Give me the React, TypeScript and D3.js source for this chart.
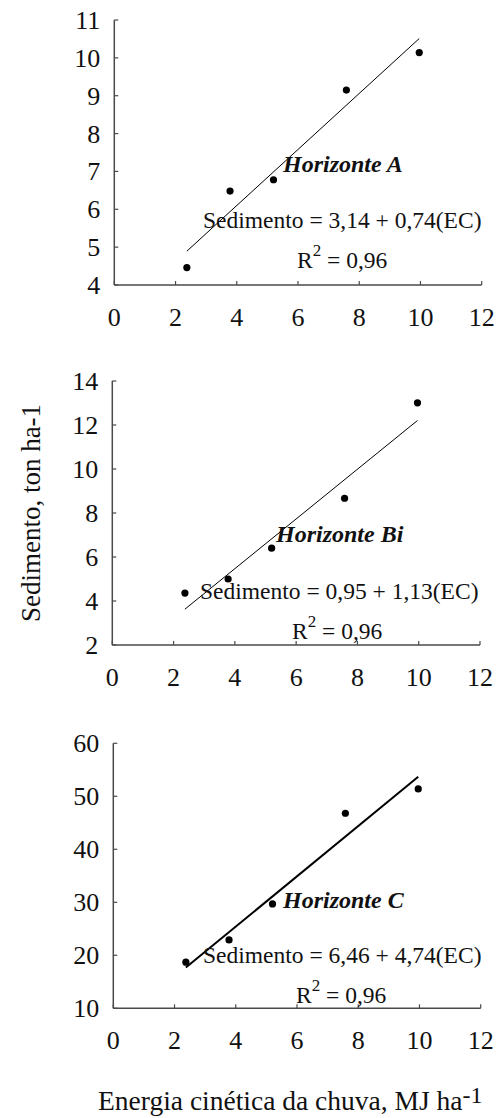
import React from "react";
import * as d3 from "d3";

const energia = [2.37, 3.78, 5.2, 7.58, 9.96];
const sedA = [4.46, 6.48, 6.78, 9.15, 10.14];
const sedB = [4.36, 5.0, 6.4, 8.67, 13.01];
const sedC = [18.7, 22.9, 29.7, 46.8, 51.4];
const intercepts = [3.14, 0.95, 6.46];
const slopes = [0.74, 1.13, 4.74];
const xTicks = [0, 2, 4, 6, 8, 10, 12];
const yTicksA = [4, 5, 6, 7, 8, 9, 10, 11];
const yTicksB = [2, 4, 6, 8, 10, 12, 14];
const yTicksC = [10, 20, 30, 40, 50, 60];
const horizontes = ["Horizonte A", "Horizonte Bi", "Horizonte C"];
const equations = [
  "Sedimento = 3,14 + 0,74(EC)",
  "Sedimento = 0,95 + 1,13(EC)",
  "Sedimento = 6,46 + 4,74(EC)",
];
const r2Values = ["0,96", "0,96", "0,96"];
const yTitle = "Sedimento, ton ha-1";
const xTitle = "Energia cinética da chuva, MJ ha";
const xTitleSup = "-1";

const FONT = "'Liberation Serif', 'Times New Roman', serif";
const AXIS = "#4a4a4a";

const panels = [
  { vals: sedA, yTicks: yTicksA, left: 114.3, right: 481.7, top: 20, bottom: 285, lw: 1,
    hx: 283, hy: 172, ex: 203, ey: 228, rx: 297, ry: 268 },
  { vals: sedB, yTicks: yTicksB, left: 112.3, right: 480, top: 381, bottom: 645, lw: 1,
    hx: 276, hy: 542, ex: 200, ey: 599, rx: 292, ry: 639 },
  { vals: sedC, yTicks: yTicksC, left: 113.3, right: 480.7, top: 743.3, bottom: 1008.3, lw: 2,
    hx: 283, hy: 908, ex: 203, ey: 963, rx: 296, ry: 1003 },
];

function Panel({ p, i }: { p: any; i: number }) {
  const x = d3.scaleLinear().domain([0, 12]).range([p.left, p.right]);
  const yDom = [p.yTicks[0], p.yTicks[p.yTicks.length - 1]];
  const y = d3.scaleLinear().domain(yDom).range([p.bottom, p.top]);
  const x0 = d3.min(energia) as number;
  const x1 = d3.max(energia) as number;
  const line = d3.line<number>().x((d) => x(d)).y((d) => y(intercepts[i] + slopes[i] * d));
  return (
    <g>
      <line x1={x(0)} x2={x(0)} y1={y(yDom[1])} y2={y(yDom[0])} stroke={AXIS} strokeWidth={1.5} />
      <line x1={x(0)} x2={x(12)} y1={y(yDom[0])} y2={y(yDom[0])} stroke={AXIS} strokeWidth={1.5} />
      {p.yTicks.map((t: number) => (
        <g key={"y" + t}>
          <line x1={x(0)} x2={x(0) + 4} y1={y(t)} y2={y(t)} stroke={AXIS} strokeWidth={1.2} />
          <text x={x(0) - 14} y={y(t) + 9} textAnchor="end" fontSize={26} fontFamily={FONT} fill="#111">
            {t}
          </text>
        </g>
      ))}
      {xTicks.map((t) => (
        <g key={"x" + t}>
          <line x1={x(t)} x2={x(t)} y1={y(yDom[0])} y2={y(yDom[0]) - 4} stroke={AXIS} strokeWidth={1.2} />
          <text x={x(t)} y={y(yDom[0]) + 41} textAnchor="middle" fontSize={26} fontFamily={FONT} fill="#111">
            {t}
          </text>
        </g>
      ))}
      <path d={line([x0, x1]) || ""} stroke="#000" strokeWidth={p.lw} fill="none" />
      {energia.map((e, k) => (
        <circle key={k} cx={x(e)} cy={y(p.vals[k])} r={3.6} fill="#000" />
      ))}
      <text x={p.hx} y={p.hy} fontSize={24} fontWeight="bold" fontStyle="italic" fontFamily={FONT} fill="#111">
        {horizontes[i]}
      </text>
      <text x={p.ex} y={p.ey} fontSize={23.5} fontFamily={FONT} fill="#111">
        {equations[i]}
      </text>
      <text x={p.rx} y={p.ry} fontSize={23.5} fontFamily={FONT} fill="#111">
        R
        <tspan fontSize={17} dy={-12}>2</tspan>
        <tspan dy={12}>{" = " + r2Values[i]}</tspan>
      </text>
    </g>
  );
}

export default function App() {
  return (
    <svg
      width={499}
      height={1118}
      style={{ position: "absolute", left: 0, top: 0, display: "block", background: "#fff" }}
    >
      <rect width={499} height={1118} fill="#fff" />
      {panels.map((p, i) => (
        <Panel key={i} p={p} i={i} />
      ))}
      <text
        transform="translate(40,513) rotate(-90)"
        textAnchor="middle"
        fontSize={27}
        fontFamily={FONT}
        fill="#111"
      >
        {yTitle}
      </text>
      <text x={98} y={1110} fontSize={27.5} fontFamily={FONT} fill="#111">
        {xTitle}
        <tspan fontSize={24} dy={-7}>{xTitleSup}</tspan>
      </text>
    </svg>
  );
}
